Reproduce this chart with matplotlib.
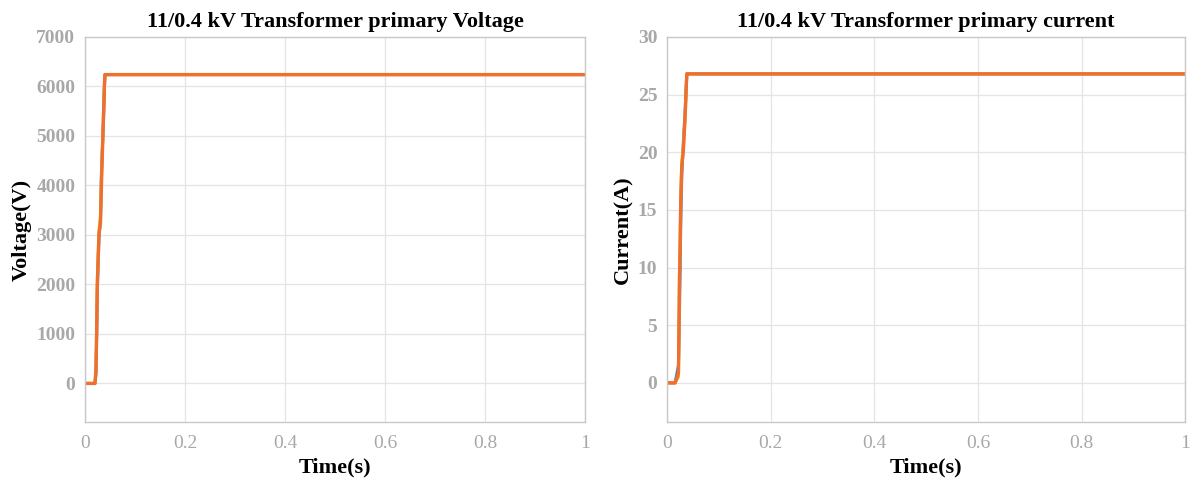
import numpy as np
import matplotlib.pyplot as plt

# primary voltage (V) vs time (s), three overlapping traces
t_v = [0, 0.020, 0.022, 0.0233, 0.0247, 0.028, 0.031, 0.033, 0.037, 0.039, 0.040, 1.0]
v_a = [0, 0, 270, 1010, 2020, 3030, 3240, 4040, 5390, 6060, 6240, 6240]
v_b = [0, 0, 200, 900, 1900, 2950, 3300, 4300, 5300, 6000, 6240, 6240]
v_c = [0, 0, 300, 1100, 2100, 3100, 3400, 4200, 5500, 6100, 6240, 6240]

# primary current (A) vs time (s)
t_i = [0, 0.0154, 0.0219, 0.0238, 0.025, 0.0264, 0.0283, 0.0315, 0.0347, 0.038, 1.0]
i_a = [0, 0, 0.84, 8.6, 11.5, 15.9, 18.8, 20.2, 23.1, 26.8, 26.8]
i_b = [0, 0, 1.5, 6.0, 9.5, 14.0, 18.0, 21.0, 23.5, 26.8, 26.8]
i_c = [0, 0, 0.5, 9.5, 12.5, 16.5, 19.2, 20.6, 22.8, 26.8, 26.8]

xticks = [0, 0.2, 0.4, 0.6, 0.8, 1]
xtick_labels = ['0', '0.2', '0.4', '0.6', '0.8', '1']

plt.rcParams['font.family'] = ['Liberation Serif', 'DejaVu Serif']

fig = plt.figure(figsize=(12.02, 4.84), dpi=100)
ax1 = fig.add_axes([0.0707, 0.128, 0.416, 0.7956])
ax2 = fig.add_axes([0.555, 0.128, 0.431, 0.7956])

blue = '#4a7fc0'
yellow = '#f2b52a'
orange = '#ef6f2e'


def style(ax, ylim, yticks, title, ylabel):
    ax.set_xlim(0, 1)
    ax.set_ylim(*ylim)
    ax.set_xticks(xticks)
    ax.set_xticklabels(xtick_labels)
    ax.set_yticks(yticks)
    ax.grid(True, color='#e4e4e4', linewidth=0.9)
    ax.set_axisbelow(True)
    for s in ax.spines.values():
        s.set_color('#c8c8c8')
        s.set_linewidth(1.0)
    ax.tick_params(length=0, labelsize=14, colors='#a8a8a8')
    ax.tick_params(axis='x', pad=9)
    ax.tick_params(axis='y', pad=7)
    for lab in ax.get_yticklabels():
        lab.set_fontweight('bold')
    ax.set_title(title, fontsize=16, fontweight='bold', pad=7)
    ax.set_xlabel('Time(s)', fontsize=16, fontweight='bold', labelpad=4)
    ax.set_ylabel(ylabel, fontsize=16, fontweight='bold', labelpad=3)


ax1.plot(t_v, v_b, color=blue, lw=2.2)
ax1.plot(t_v, v_c, color=yellow, lw=2.2)
ax1.plot(t_v, v_a, color=orange, lw=2.4)
style(ax1, (-780, 7000), range(0, 7001, 1000),
      '11/0.4 kV Transformer primary Voltage', 'Voltage(V)')

ax2.plot(t_i, i_b, color=blue, lw=2.2)
ax2.plot(t_i, i_c, color=yellow, lw=2.2)
ax2.plot(t_i, i_a, color=orange, lw=2.4)
style(ax2, (-3.4, 30), range(0, 31, 5),
      '11/0.4 kV Transformer primary current', 'Current(A)')

fig.savefig('out.png', dpi=100)
